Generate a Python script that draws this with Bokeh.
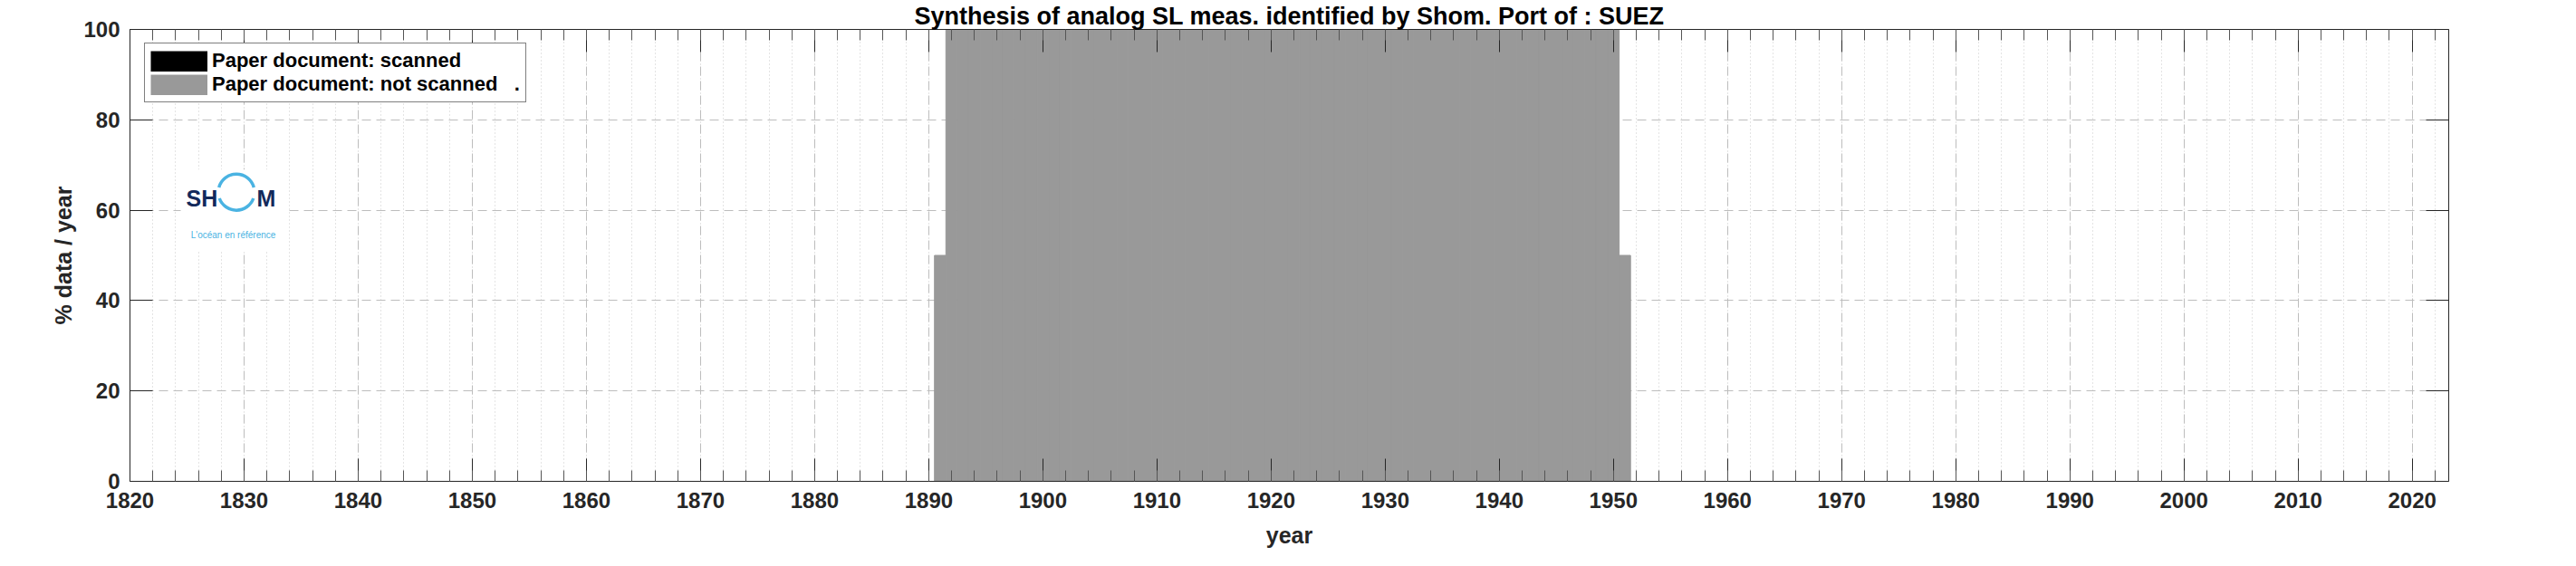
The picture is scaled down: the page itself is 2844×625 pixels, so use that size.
from bokeh.plotting import figure
from bokeh.models import (Range1d, LinearAxis, SingleIntervalTicker, Legend, LegendItem,
                          Label, ColumnDataSource, Grid, CustomJSTickFormatter)
from bokeh.embed import file_html
from bokeh.resources import INLINE

# ---------------- data ----------------
title_text = "Synthesis of analog SL meas. identified by Shom. Port of : SUEZ"
x_label = "year"
y_label = "% data / year"
legend_labels = ["Paper document: scanned", "Paper document: not scanned   ."]

years = [1891, 1892, 1893, 1894, 1895, 1896, 1897, 1898, 1899, 1900,
         1901, 1902, 1903, 1904, 1905, 1906, 1907, 1908, 1909, 1910,
         1911, 1912, 1913, 1914, 1915, 1916, 1917, 1918, 1919, 1920,
         1921, 1922, 1923, 1924, 1925, 1926, 1927, 1928, 1929, 1930,
         1931, 1932, 1933, 1934, 1935, 1936, 1937, 1938, 1939, 1940,
         1941, 1942, 1943, 1944, 1945, 1946, 1947, 1948, 1949, 1950,
         1951]
scanned = [0, 0, 0, 0, 0, 0, 0, 0, 0, 0,
           0, 0, 0, 0, 0, 0, 0, 0, 0, 0,
           0, 0, 0, 0, 0, 0, 0, 0, 0, 0,
           0, 0, 0, 0, 0, 0, 0, 0, 0, 0,
           0, 0, 0, 0, 0, 0, 0, 0, 0, 0,
           0, 0, 0, 0, 0, 0, 0, 0, 0, 0,
           0]
not_scanned = [50, 100, 100, 100, 100, 100, 100, 100, 100, 100,
               100, 100, 100, 100, 100, 100, 100, 100, 100, 100,
               100, 100, 100, 100, 100, 100, 100, 100, 100, 100,
               100, 100, 100, 100, 100, 100, 100, 100, 100, 100,
               100, 100, 100, 100, 100, 100, 100, 100, 100, 100,
               100, 100, 100, 100, 100, 100, 100, 100, 100, 100,
               50]

x_start, x_end = 1820, 2023.2
y_start, y_end = 0, 100

# ---------------- styling ----------------
FONT = "Liberation Sans"
AX_COL = "#262626"
W, H = 2828, 609
FL, FR, FT, FB = 143, 125, 31, 78   # frame borders (figure px)
FRAME_W = W - FL - FR
FRAME_H = H - FT - FB

def dx(px):  # figure pixel -> data x (decoration placement only)
    return x_start + (px - FL) * (x_end - x_start) / FRAME_W

def dy(py):
    return y_end - (py - FT) * (y_end - y_start) / FRAME_H

p = figure(width=W, height=H, output_backend="svg", toolbar_location=None,
           x_range=Range1d(x_start, x_end), y_range=Range1d(y_start, y_end),
           x_axis_type=None, y_axis_type=None,
           min_border_left=FL, min_border_right=FR, min_border_top=FT, min_border_bottom=FB)
p.outline_line_color = None
p.background_fill_color = "white"
p.border_fill_color = "white"

# title
p.title.text = title_text
p.title.align = "center"
p.title.text_font = FONT
p.title.text_font_style = "bold"
p.title.text_font_size = "27px"
p.title.text_color = "#000000"
p.title.standoff = 0
p.title.offset = 0

xticker = SingleIntervalTicker(interval=10, num_minor_ticks=5)
yticker = SingleIntervalTicker(interval=20, num_minor_ticks=0)

xgrid = Grid(dimension=0, ticker=xticker, grid_line_color="#bdbdbd", grid_line_dash="10 6",
             minor_grid_line_color="#c8c8c8", minor_grid_line_dash="1 3")
ygrid = Grid(dimension=1, ticker=yticker, grid_line_color="#bdbdbd", grid_line_dash="10 6")
p.add_layout(xgrid)
p.add_layout(ygrid)

blank = CustomJSTickFormatter(code="return ''")

def style_axis(ax, labels=True):
    ax.axis_line_color = AX_COL
    ax.axis_line_width = 1
    ax.major_tick_line_color = AX_COL
    ax.minor_tick_line_color = "#555555"
    ax.major_tick_in = 25
    ax.major_tick_out = 0
    ax.minor_tick_in = 12
    ax.minor_tick_out = 0
    ax.major_label_text_font = FONT
    ax.major_label_text_font_style = "bold"
    ax.major_label_text_color = AX_COL
    ax.axis_label_text_font = FONT
    ax.axis_label_text_font_style = "bold"
    ax.axis_label_text_font_size = "25px"
    ax.axis_label_text_color = AX_COL
    if labels:
        ax.major_label_text_font_size = "24px"
    else:
        ax.formatter = blank
        ax.major_label_text_font_size = "1px"
        ax.major_label_standoff = 0

xb = LinearAxis(ticker=xticker, axis_label=x_label)
style_axis(xb)
xb.major_label_standoff = 12
xb.axis_label_standoff = 13
yl = LinearAxis(ticker=yticker, axis_label=y_label)
style_axis(yl)
yl.major_label_standoff = 11
yl.axis_label_standoff = 5
xt = LinearAxis(ticker=xticker)
style_axis(xt, labels=False)
yr = LinearAxis(ticker=yticker)
style_axis(yr, labels=False)
p.add_layout(xb, "below")
p.add_layout(yl, "left")
p.add_layout(xt, "above")
p.add_layout(yr, "right")

# ---------------- bars ----------------
src = ColumnDataSource(dict(year=years, scanned=scanned, not_scanned=not_scanned))
p.vbar_stack(["scanned", "not_scanned"], x="year", width=1, source=src,
             fill_color=["#000000", "#999999"],
             line_color=["#000000", "#999999"], line_alpha=[0.0, 1.0], line_width=1)

# ---------------- logo (decoration) ----------------
p.quad(left=[dx(199)], right=[dx(316)], top=[dy(186)], bottom=[dy(275)],
       fill_color="white", line_color=None)
ring_col = "#4ab3e2"
navy = "#13295b"
p.arc(x=[dx(260.5)], y=[dy(211)], radius=20, radius_units="screen",
      start_angle=15, end_angle=165, start_angle_units="deg", end_angle_units="deg",
      line_color=ring_col, line_width=3.5)
p.arc(x=[dx(260.5)], y=[dy(211)], radius=20, radius_units="screen",
      start_angle=200, end_angle=340, start_angle_units="deg", end_angle_units="deg",
      line_color=ring_col, line_width=3.5)
p.add_layout(Label(x=dx(205), y=dy(218), text="SH", text_baseline="middle",
                   text_font=FONT, text_font_style="bold", text_font_size="25px",
                   text_color=navy))
p.add_layout(Label(x=dx(283), y=dy(218), text="M", text_baseline="middle",
                   text_font=FONT, text_font_style="bold", text_font_size="25px",
                   text_color=navy))
p.add_layout(Label(x=dx(257), y=dy(258), text="L'océan en référence", text_align="center",
                   text_baseline="middle", text_font=FONT, text_font_size="10px",
                   text_color=ring_col))

# ---------------- legend ----------------
nan = float("nan")
r_sc = p.line(x=[nan], y=[nan], line_color="#000000", line_width=23, line_cap="butt")
r_ns = p.line(x=[nan], y=[nan], line_color="#999999", line_width=23, line_cap="butt")
legend = Legend(items=[LegendItem(label=legend_labels[0], renderers=[r_sc]),
                       LegendItem(label=legend_labels[1], renderers=[r_ns])],
                location=(16, FRAME_H - 17 - 65), orientation="vertical",
                glyph_width=63, glyph_height=23, padding=6, spacing=0, margin=0,
                label_standoff=5, label_height=23,
                label_text_font=FONT, label_text_font_style="bold",
                label_text_font_size="22px", label_text_color="#000000",
                border_line_color="#000000", border_line_width=1.5,
                background_fill_color="white", background_fill_alpha=1.0)
p.add_layout(legend)

open("out.html", "w").write(file_html(p, INLINE))
